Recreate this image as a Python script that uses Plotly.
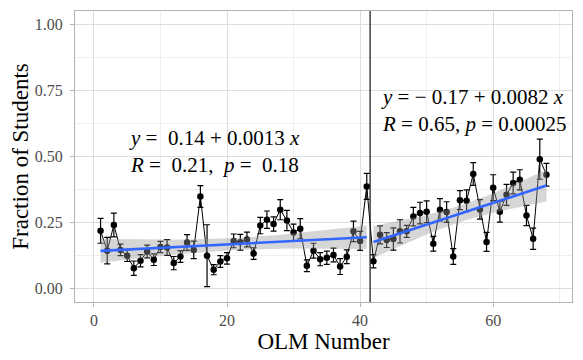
import numpy as np
import plotly.graph_objects as go

# OLM index, fraction of students and error-bar half widths
olm = list(range(1, 69))
frac = [0.219, 0.144, 0.241, 0.147, 0.125, 0.078, 0.106, 0.141, 0.110, 0.158,
        0.156, 0.097, 0.122, 0.175, 0.147, 0.349, 0.125, 0.072, 0.103, 0.115,
        0.181, 0.176, 0.186, 0.133, 0.239, 0.261, 0.245, 0.299, 0.258, 0.213,
        0.227, 0.087, 0.144, 0.112, 0.117, 0.128, 0.084, 0.121, 0.217, 0.181,
        0.387, 0.104, 0.204, 0.184, 0.188, 0.217, 0.217, 0.273, 0.286, 0.291,
        0.170, 0.299, 0.290, 0.122, 0.335, 0.333, 0.434, 0.300, 0.177, 0.382,
        0.291, 0.355, 0.400, 0.412, 0.277, 0.189, 0.490, 0.431]
err = [0.047, 0.050, 0.045, 0.022, 0.022, 0.027, 0.023, 0.024, 0.022, 0.021,
       0.030, 0.025, 0.022, 0.030, 0.033, 0.041, 0.117, 0.019, 0.022, 0.022,
       0.026, 0.030, 0.028, 0.022, 0.031, 0.033, 0.027, 0.038, 0.038, 0.031,
       0.038, 0.022, 0.028, 0.025, 0.025, 0.026, 0.030, 0.026, 0.039, 0.036,
       0.049, 0.025, 0.034, 0.028, 0.042, 0.044, 0.023, 0.035, 0.041, 0.041,
       0.028, 0.042, 0.039, 0.030, 0.036, 0.041, 0.043, 0.037, 0.036, 0.049,
       0.039, 0.040, 0.041, 0.038, 0.038, 0.040, 0.076, 0.043]

split_at = 41.5
left_label = "<i>y</i> =  0.14 + 0.0013 <i>x</i><br><i>R</i> =  0.21,  <i>p</i> =  0.18"
right_label = "<i>y</i> = \u2212 0.17 + 0.0082 <i>x</i><br><i>R</i> = 0.65, <i>p</i> = 0.00025"

FONT = "Liberation Serif"

x = np.array(olm, dtype=float)
y = np.array(frac)

fig = go.Figure()

# data line + error bars + points
fig.add_trace(go.Scatter(
    x=olm, y=frac, mode='lines+markers',
    line=dict(color='black', width=1),
    marker=dict(size=6.5, color='black'),
    error_y=dict(type='data', array=err, color='black', thickness=1.2, width=3),
    showlegend=False, hoverinfo='skip'
))


# linear fit with 95% band, like geom_smooth(method = "lm")
def add_fit(mask, tval):
    xs, ys = x[mask], y[mask]
    n = len(xs)
    b, a = np.polyfit(xs, ys, 1)
    fit = a + b * xs
    s = np.sqrt(np.sum((ys - fit) ** 2) / (n - 2))
    se = s * np.sqrt(1 / n + (xs - xs.mean()) ** 2 / np.sum((xs - xs.mean()) ** 2))
    upper = fit + tval * se
    lower = fit - tval * se
    fig.add_trace(go.Scatter(
        x=np.concatenate([xs, xs[::-1]]), y=np.concatenate([upper, lower[::-1]]),
        fill='toself', fillcolor='rgba(153,153,153,0.4)', line=dict(width=0),
        mode='lines', showlegend=False, hoverinfo='skip'
    ))
    fig.add_trace(go.Scatter(
        x=xs, y=fit, mode='lines', line=dict(color='#3366FF', width=2.6),
        showlegend=False, hoverinfo='skip'
    ))


add_fit(x < split_at, 2.023)
add_fit(x > split_at, 2.060)

fig.add_vline(x=split_at, line=dict(color='#222222', width=1.3))

fig.add_annotation(x=4.9, y=0.518, text=left_label, showarrow=False,
                   xanchor='left', yanchor='middle', align='left',
                   font=dict(family=FONT, size=21, color='black'))
fig.add_annotation(x=42.8, y=0.675, text=right_label, showarrow=False,
                   xanchor='left', yanchor='middle', align='left',
                   font=dict(family=FONT, size=21, color='black'))

axis_common = dict(
    showline=True, linecolor='#B3B3B3', linewidth=1, mirror=True,
    ticks='outside', ticklen=4, tickcolor='#B3B3B3',
    gridcolor='#DEDEDE', gridwidth=0.8, zeroline=False, automargin=False,
    tickfont=dict(family=FONT, size=16, color='#4D4D4D'),
)

fig.update_xaxes(
    range=[-2.84, 71.84], tickvals=[0, 20, 40, 60],
    minor=dict(tickvals=[10, 30, 50, 70], showgrid=True, gridcolor='#EFEFEF', gridwidth=0.6, ticks=''),
    title=dict(text='OLM Number', font=dict(family=FONT, size=23, color='black'), standoff=2),
    **axis_common
)
fig.update_yaxes(
    range=[-0.05, 1.05], tickvals=[0, 0.25, 0.5, 0.75, 1.0], tickformat='.2f',
    ticklabelstandoff=4,
    minor=dict(tickvals=[0.125, 0.375, 0.625, 0.875], showgrid=True, gridcolor='#EFEFEF', gridwidth=0.6, ticks=''),
    title=dict(text='Fraction of Students', font=dict(family=FONT, size=23, color='black'), standoff=0),
    **axis_common
)

# the page body adds an 8px margin, so the figure is made 8px smaller
fig.update_layout(
    width=575, height=352,
    margin=dict(l=67, r=11, t=3, b=58),
    plot_bgcolor='white', paper_bgcolor='white',
    showlegend=False,
)

fig.write_html("out.html")
